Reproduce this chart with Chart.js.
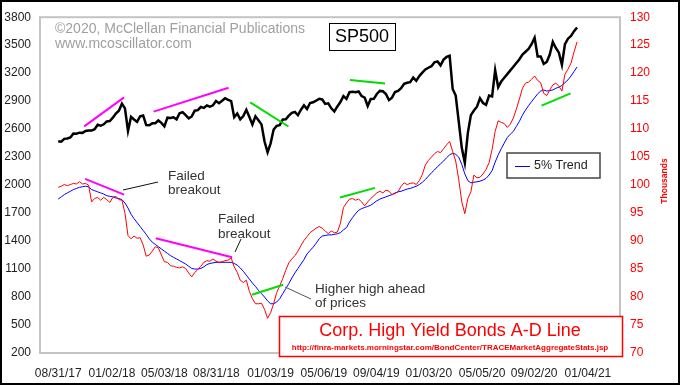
<!DOCTYPE html>
<html>
<head>
<meta charset="utf-8">
<script src="https://cdn.jsdelivr.net/npm/chart.js@4.4.0/dist/chart.umd.min.js"></script>
<style>
  html, body { margin: 0; padding: 0; background: #fff; }
</style>
</head>
<body>
<canvas id="chart" width="680" height="385"></canvas>
<script>
// weekly closes, first week = 08/31/17
const startDate = '2017-08-31';

const spx = [
  2471, 2465, 2496, 2500, 2510, 2552, 2550, 2562, 2560, 2580, 2585, 2585, 2600, 2647, 2636, 2652, 2683, 2687,
  2723, 2767, 2798, 2873, 2822, 2581, 2731, 2703, 2677, 2738, 2747, 2643, 2641, 2662, 2663, 2693, 2667, 2630,
  2723, 2720, 2727, 2705, 2770, 2782, 2749, 2716, 2736, 2798, 2804, 2837, 2827, 2853, 2840, 2856, 2901, 2878,
  2904, 2931, 2914, 2901, 2728, 2768, 2705, 2740, 2807, 2730, 2650, 2738, 2696, 2651, 2467, 2351, 2448, 2596,
  2635, 2643, 2704, 2706, 2745, 2775, 2784, 2749, 2808, 2855, 2815, 2880, 2888, 2905, 2926, 2918, 2870, 2876,
  2823, 2789, 2843, 2891, 2954, 2925, 2996, 3000, 2996, 3004, 2954, 2938, 2848, 2923, 2925, 2977, 3010, 3006,
  2977, 2911, 2938, 2998, 3010, 3038, 3085, 3097, 3103, 3153, 3118, 3169, 3205, 3240, 3258, 3275, 3317, 3326,
  3284, 3346, 3374, 3386, 3030, 2960, 2680, 2400, 2240, 2560, 2750, 2800, 2840, 2930, 2880, 2860, 2960, 2950,
  3232, 3050, 3110, 3150, 3190, 3230, 3268, 3310, 3350, 3400, 3430, 3460, 3510, 3580, 3380, 3380, 3300, 3320,
  3400, 3535, 3470, 3420, 3290, 3510, 3570, 3600, 3650, 3690
];

// HY bond A-D line, thousands
const adLine = [
  99.6, 99.8, 100.1, 99.9, 100.1, 100.3, 100.2, 100.6, 100.2, 100.3, 100.0, 97.0, 97.6, 97.8, 97.3, 97.8, 97.4, 96.9,
  97.8, 98.0, 97.4, 97.3, 95.0, 91.0, 90.4, 90.9, 90.5, 90.6, 89.3, 87.3, 87.5, 88.2, 89.0, 88.8, 87.5, 86.3,
  86.2, 85.6, 85.5, 85.3, 85.2, 85.4, 85.1, 84.3, 83.6, 84.4, 84.9, 85.5, 86.2, 86.5, 86.4, 86.8, 86.4, 86.2,
  86.3, 86.5, 86.6, 87.0, 85.4, 84.4, 83.0, 82.6, 83.0, 81.0, 79.7, 78.8, 78.8, 78.9, 77.8, 76.2, 77.2, 78.8,
  80.8, 82.0, 83.3, 84.8, 86.1, 86.8, 87.4, 88.2, 89.2, 90.1, 90.8, 91.5, 91.9, 92.3, 92.6, 92.3, 91.8, 91.3,
  91.8, 91.5, 91.6, 93.2, 96.0, 96.8, 97.5, 97.6, 97.3, 97.5, 97.0, 96.3, 97.0, 97.6, 98.1, 98.6, 98.9, 98.6,
  99.1, 98.9, 98.3, 98.5, 98.8, 99.8, 100.4, 100.1, 100.3, 100.4, 100.1, 100.8, 101.9, 103.6, 104.4, 105.0, 105.6, 106.0,
  105.8, 106.5, 107.2, 107.8, 106.0, 104.3, 101.0, 97.0, 94.9, 97.6, 98.8, 101.8, 101.3, 101.4, 102.0, 102.8, 104.0, 106.4,
  109.6, 111.5, 111.2, 111.0, 110.3, 110.9, 112.0, 113.6, 115.4, 117.3, 118.2, 118.4, 118.9, 119.5, 118.7, 118.3, 116.4, 116.0,
  117.0, 117.9, 118.2, 117.7, 116.8, 119.8, 120.7, 121.8, 123.8, 125.6
];

// 5% trend of the A-D line
const adTrend = [
  97.5, 97.9, 98.3, 98.6, 98.9, 99.2, 99.4, 99.6, 99.7, 99.8, 99.7, 99.2, 99.0, 98.8, 98.6, 98.4, 98.1, 98.0,
  97.9, 97.7, 97.6, 97.4, 96.8, 95.9, 94.8, 94.0, 93.3, 92.6, 91.9, 91.2, 90.4, 89.8, 89.4, 89.0, 88.6, 88.2,
  87.8, 87.4, 87.1, 86.8, 86.5, 86.2, 85.9, 85.5, 85.1, 85.0, 85.0, 85.1, 85.4, 85.8, 86.0, 86.1, 86.2, 86.2,
  86.2, 86.2, 86.2, 86.2, 86.0, 85.7, 85.2, 84.6, 83.9, 83.2, 82.5, 81.9, 81.2, 80.6, 80.0, 79.3, 78.8, 78.8,
  79.1, 79.7, 80.6, 81.5, 82.4, 83.4, 84.3, 85.1, 85.9, 86.7, 87.7, 88.3, 88.9, 89.6, 90.4, 90.9, 91.0, 91.1,
  91.1, 91.2, 91.3, 91.5, 92.0, 92.4, 93.4, 94.2, 94.9, 95.5, 95.8, 96.0, 96.2, 96.4, 96.8, 97.2, 97.5, 97.7,
  97.9, 98.1, 98.3, 98.6, 98.8, 98.9, 99.1, 99.3, 99.4, 99.6, 99.8, 100.1, 100.5, 101.0, 101.6, 102.2, 102.7, 103.3,
  103.8, 104.3, 104.9, 105.4, 105.7, 105.5, 105.0, 103.7, 102.0, 100.8, 100.4, 100.5, 100.6, 100.7, 100.9, 101.2, 101.8, 102.6,
  104.1, 105.4, 106.5, 107.5, 108.5, 109.1, 109.6, 110.5, 111.4, 112.5, 113.4, 114.2, 114.9, 115.6, 116.3, 116.8, 117.0, 116.8,
  116.9, 117.0, 117.3, 117.5, 117.8, 118.3, 118.8, 119.5, 120.3, 121.1
];

const tickLabels = ['08/31/17', '01/02/18', '05/03/18', '08/31/18', '01/03/19', '05/06/19',
                    '09/04/19', '01/03/20', '05/05/20', '09/02/20', '01/04/21'];

// drawn-in divergence lines: [date, value, date, value]
const magentaSpx = [['2017-10-30', 2629, '2018-01-30', 2941], ['2018-04-08', 2788, '2018-09-28', 3044]];
const magentaAd  = [['2017-11-01', 101.1, '2018-01-30', 98.3], ['2018-04-13', 90.5, '2018-10-06', 87.1]];
const greenSpx   = [['2018-11-17', 2887, '2019-02-13', 2628], ['2019-07-05', 3126, '2019-09-24', 3090]];
const greenAd    = [['2018-11-21', 80.4, '2019-02-01', 82.2], ['2019-06-12', 97.8, '2019-09-01', 99.5],
                    ['2020-09-19', 114.2, '2020-11-25', 116.4]];

// helpers
const dayOf = function(iso) {
  const p = iso.split('-').map(Number);
  const s = startDate.split('-').map(Number);
  return (Date.UTC(p[0], p[1] - 1, p[2]) - Date.UTC(s[0], s[1] - 1, s[2])) / 86400000;
}
const tickDay = function(lbl) {
  const p = lbl.split('/');
  return dayOf(`20${p[2]}-${p[0]}-${p[1]}`);
}
const toPoints = arr => arr.map((v, i) => ({x: i * 7, y: v}));

const segSets = function(list, axis, color) {
  return list.map(s => ({
    data: [{x: dayOf(s[0]), y: s[1]}, {x: dayOf(s[2]), y: s[3]}],
    yAxisID: axis, borderColor: color, borderWidth: 2, pointRadius: 0
  }));
}

const tickDays = tickLabels.map(tickDay);
const FONT = '"Liberation Sans", Arial, sans-serif';

const decor = {
  id: 'decor',
  beforeDraw(chart) {
    const c = chart.ctx;
    c.save();
    c.fillStyle = '#fff';
    c.fillRect(0, 0, chart.width, chart.height);
    c.restore();
  },
  afterDatasetsDraw(chart) {
    const c = chart.ctx;
    const a = chart.chartArea;
    c.save();
    // plot frame
    c.strokeStyle = '#c4c4c4';
    c.lineWidth = 2;
    c.strokeRect(a.left, a.top, a.right - a.left, a.bottom - a.top);

    // copyright
    c.fillStyle = '#a0a0a0';
    c.font = `14px ${FONT}`;
    c.textBaseline = 'middle';
    c.textAlign = 'left';
    c.fillText('\u00a92020, McClellan Financial Publications', 55, 29);
    c.fillText('www.mcoscillator.com', 55, 44);

    // SP500 box
    c.fillStyle = '#fff';
    c.fillRect(329, 23, 66, 27);
    c.strokeStyle = '#000';
    c.lineWidth = 1;
    c.strokeRect(329.5, 23.5, 66, 27);
    c.fillStyle = '#000';
    c.font = `18px ${FONT}`;
    c.textAlign = 'center';
    c.fillText('SP500', 362, 37.5);

    // legend
    c.fillStyle = '#fff';
    c.fillRect(507, 153, 93, 25);
    c.strokeStyle = '#444';
    c.lineWidth = 1.5;
    c.strokeRect(507, 153, 93, 25);
    c.strokeStyle = '#0000ff';
    c.lineWidth = 1;
    c.beginPath(); c.moveTo(515, 166.5); c.lineTo(530, 166.5); c.stroke();
    c.fillStyle = '#222';
    c.font = `12.5px ${FONT}`;
    c.textAlign = 'left';
    c.fillText('5% Trend', 534, 166);

    // notes
    c.fillStyle = '#333';
    c.font = `13.5px ${FONT}`;
    c.fillText('Failed', 168, 176);
    c.fillText('breakout', 168, 190);
    c.fillText('Failed', 218, 219);
    c.fillText('breakout', 218, 234);
    c.fillText('Higher high ahead', 315, 289);
    c.fillText('of prices', 315, 303);
    c.strokeStyle = '#111';
    c.lineWidth = 1;
    c.beginPath(); c.moveTo(123, 190); c.lineTo(158, 182); c.stroke();
    c.beginPath(); c.moveTo(235, 252); c.lineTo(241, 239); c.stroke();
    c.strokeStyle = '#555';
    c.beginPath(); c.moveTo(285, 287); c.lineTo(311, 299); c.stroke();

    // title box
    c.fillStyle = '#fff';
    c.fillRect(279, 316, 344, 41);
    c.strokeStyle = '#ff0000';
    c.lineWidth = 1.5;
    c.strokeRect(279.5, 316.5, 343, 40);
    c.fillStyle = '#ff0000';
    c.font = `18px ${FONT}`;
    c.textAlign = 'center';
    c.fillText('Corp. High Yield Bonds A-D Line', 450, 331);
    c.font = `bold 8px ${FONT}`;
    c.fillText('http://finra-markets.morningstar.com/BondCenter/TRACEMarketAggregateStats.jsp', 450, 348, 334);

    // right axis unit
    c.translate(665, 181);
    c.rotate(-Math.PI / 2);
    c.font = `bold 8.5px ${FONT}`;
    c.fillText('Thousands', 0, 0);
    c.restore();

    // outer frame
    c.save();
    c.strokeStyle = '#000';
    c.lineWidth = 2;
    c.strokeRect(1, 1, chart.width - 2, chart.height - 2);
    c.restore();
  }
};

const ctx = document.getElementById('chart').getContext('2d');
const chart = new Chart(ctx, {
  type: 'line',
  data: {
    datasets: [
      ...segSets(magentaSpx, 'yL', '#ff00ff'),
      ...segSets(greenSpx, 'yL', '#00dd00'),
      ...segSets(magentaAd, 'yR', '#ff00ff'),
      ...segSets(greenAd, 'yR', '#00dd00'),
      { label: 'SP500', data: toPoints(spx), yAxisID: 'yL', borderColor: '#000', borderWidth: 2.5, pointRadius: 0 },
      { label: 'A-D', data: toPoints(adLine), yAxisID: 'yR', borderColor: '#ff0000', borderWidth: 1, pointRadius: 0 },
      { label: '5% Trend', data: toPoints(adTrend), yAxisID: 'yR', borderColor: '#0000ff', borderWidth: 1, pointRadius: 0 }
    ]
  },
  options: {
    responsive: false,
    animation: false,
    devicePixelRatio: 1,
    layout: { padding: { top: 15, left: 0, right: 0, bottom: 0 } },
    plugins: { legend: { display: false }, tooltip: { enabled: false } },
    scales: {
      x: {
        type: 'linear', min: -42, max: 1296,
        grid: { display: false, drawTicks: false }, border: { display: false },
        afterBuildTicks: s => { s.ticks = tickDays.map(v => ({ value: v })); },
        afterFit: s => { s.height = 32; },
        ticks: {
          autoSkip: false, maxRotation: 0, padding: 13, color: '#222',
          font: { family: FONT, size: 12 },
          callback: v => tickLabels[tickDays.indexOf(v)]
        }
      },
      yL: {
        position: 'left', min: 200, max: 3800,
        grid: { display: false, drawTicks: false }, border: { display: false },
        afterFit: s => { s.width = 40; },
        ticks: { stepSize: 300, padding: 9, color: '#222', font: { family: FONT, size: 12 }, callback: v => String(v) }
      },
      yR: {
        position: 'right', min: 70, max: 130,
        grid: { display: false, drawTicks: false }, border: { display: false },
        afterFit: s => { s.width = 60; },
        ticks: { stepSize: 5, padding: 10, color: '#ff0000', font: { family: FONT, size: 12 }, callback: v => String(v) }
      }
    }
  },
  plugins: [decor]
});
</script>
</body>
</html>
